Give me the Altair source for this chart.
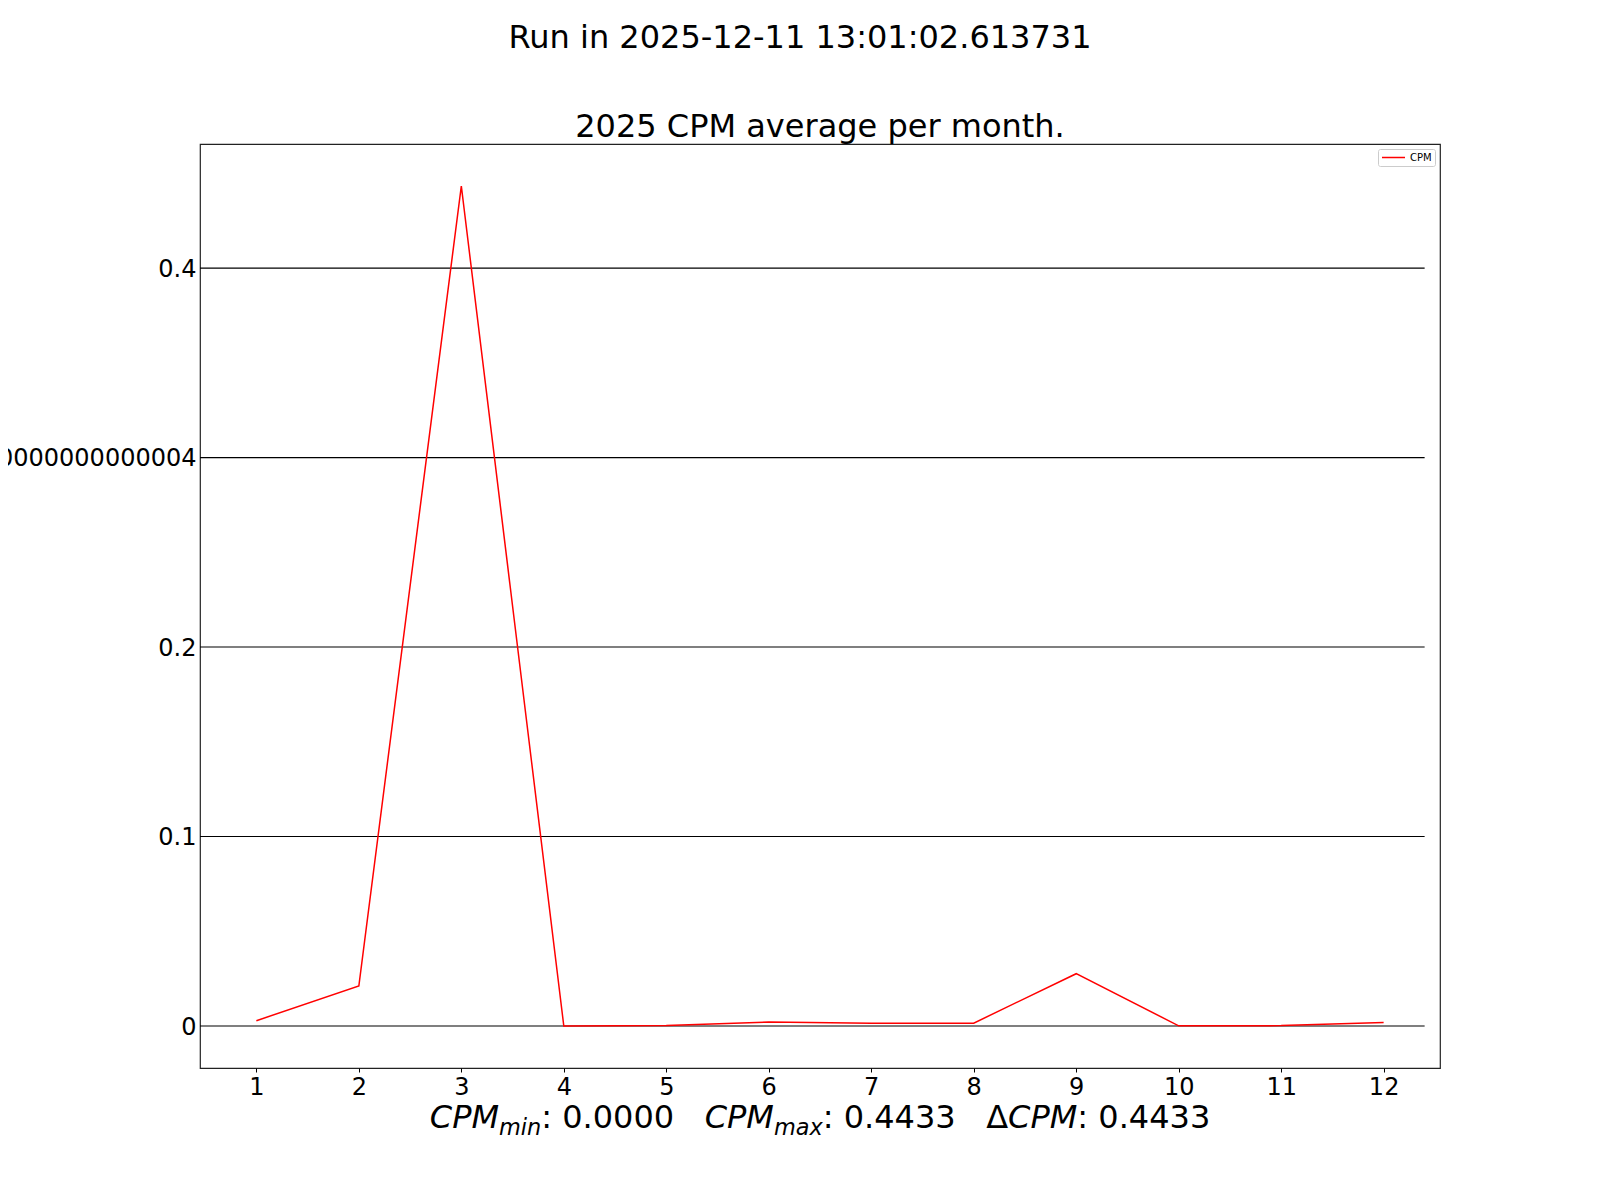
import altair as alt
import pandas as pd

# ---------------- data ----------------
months = [1, 2, 3, 4, 5, 6, 7, 8, 9, 10, 11, 12]
cpm = [0.0028, 0.0211, 0.4433, 0.0000, 0.0003, 0.0021, 0.0014, 0.0015, 0.0276, 0.0001, 0.0002, 0.0018]
series_name = "CPM"

y_tick_values = [0, 0.1, 0.2, 0.3, 0.4]
y_tick_labels = ["0", "0.1", "0.2", "0.30000000000000004", "0.4"]

suptitle = "Run in 2025-12-11 13:01:02.613731"
title = "2025 CPM average per month."
cpm_min = "0.0000"
cpm_max = "0.4433"
cpm_delta = "0.4433"

# ---------------- layout ----------------
W, H = 1240, 924
FONT = "DejaVu Sans"
TICK_FS = 24
x_domain = [0.45, 12.55]
y_lo = min(cpm) - 0.05 * (max(cpm) - min(cpm))
y_hi = max(cpm) + 0.05 * (max(cpm) - min(cpm))
grid_x_end = 12.4

df = pd.DataFrame({"month": months, "cpm": cpm, "series": [series_name] * len(months)})
grid_df = pd.DataFrame({"y": y_tick_values, "x": [x_domain[0]] * len(y_tick_values),
                        "x2": [grid_x_end] * len(y_tick_values)})

xs = alt.Scale(domain=x_domain, nice=False, zero=False)
ys = alt.Scale(domain=[y_lo, y_hi], nice=False, zero=False)

label_expr = "[" + ",".join("'%s'" % l for l in y_tick_labels) + "][indexof([" + \
    ",".join(str(v) for v in y_tick_values) + "], datum.value)]"

grid = alt.Chart(grid_df).mark_rule(color="black", strokeWidth=1.2).encode(
    x=alt.X("x:Q", scale=xs, title=None,
            axis=alt.Axis(values=months, format="d", grid=False, domain=False,
                          tickColor="black", tickSize=4, tickWidth=1,
                          labelFont=FONT, labelFontSize=TICK_FS, labelColor="black",
                          labelPadding=3, labelFlush=False, labelOverlap=False)),
    x2="x2:Q",
    y=alt.Y("y:Q", scale=ys, title=None,
            axis=alt.Axis(values=y_tick_values, labelExpr=label_expr, grid=False, domain=False,
                          tickSize=0, labelFont=FONT, labelFontSize=TICK_FS, labelColor="black",
                          labelPadding=4, labelLimit=2000, labelFlush=False,
                          labelOverlap=False, labelBound=False, labelOffset=1)),
)

line = alt.Chart(df).mark_line(strokeWidth=1.5).encode(
    x=alt.X("month:Q", scale=xs),
    y=alt.Y("cpm:Q", scale=ys),
    color=alt.Color("series:N", scale=alt.Scale(range=["red"]),
                    legend=alt.Legend(title=None, orient="none", legendX=1178, legendY=5,
                                      symbolType="stroke", symbolSize=529, symbolStrokeWidth=1.5,
                                      clipHeight=11,
                                      labelFont=FONT, labelFontSize=10, labelColor="black",
                                      labelOffset=4, padding=3, strokeColor="#cccccc",
                                      fillColor="white", cornerRadius=2)),
)


def text_layer(txt, x, y, size, style="normal", align="left", baseline="alphabetic"):
    return alt.Chart(pd.DataFrame({"t": [txt]})).mark_text(
        font=FONT, fontSize=size, fontStyle=style, align=align, baseline=baseline, color="black"
    ).encode(text="t:N", x=alt.value(x), y=alt.value(y))


# DejaVu Sans advance widths (em)
adv = {" ": .318, ".": .318, ":": .337, "C": .698, "P": .603, "M": .863, "m": .974,
       "i": .278, "n": .634, "a": .613, "x": .592, "\u0394": .684}
for d in "0123456789":
    adv[d] = .636


def width(s, size):
    return sum(adv.get(c, .6) for c in s) * size


FS = 32
SUB = FS * 0.7
segments = [
    ("CPM", FS, "italic", 0), ("min", SUB, "italic", 7), (": " + cpm_min, FS, "normal", 0),
    ("   ", FS, "normal", 0),
    ("CPM", FS, "italic", 0), ("max", SUB, "italic", 7), (": " + cpm_max, FS, "normal", 0),
    ("   ", FS, "normal", 0),
    ("\u0394", FS, "normal", 0), ("CPM", FS, "italic", 0), (": " + cpm_delta, FS, "normal", 0),
]
total = sum(width(s, sz) for s, sz, _, _ in segments)
xpos = W / 2 - total / 2
base_y = 984
xlabel_layers = []
for s, sz, st, dy in segments:
    if s.strip():
        xlabel_layers.append(text_layer(s, xpos, base_y + dy, sz, st))
    xpos += width(s, sz)

texts = [
    text_layer(suptitle, 600, -96, 32, align="center"),
    text_layer(title, W / 2, -7, 32, align="center"),
] + xlabel_layers

chart = alt.layer(grid, line, *texts).properties(
    width=W, height=H,
    background="white",
    autosize=alt.AutoSizeParams(type="none"),
    padding={"left": 192, "top": 136, "right": 140, "bottom": 120},
).configure_view(stroke="#222222", strokeWidth=1.2)

chart.save("out.html", embed_options={"renderer": "svg", "actions": False})
